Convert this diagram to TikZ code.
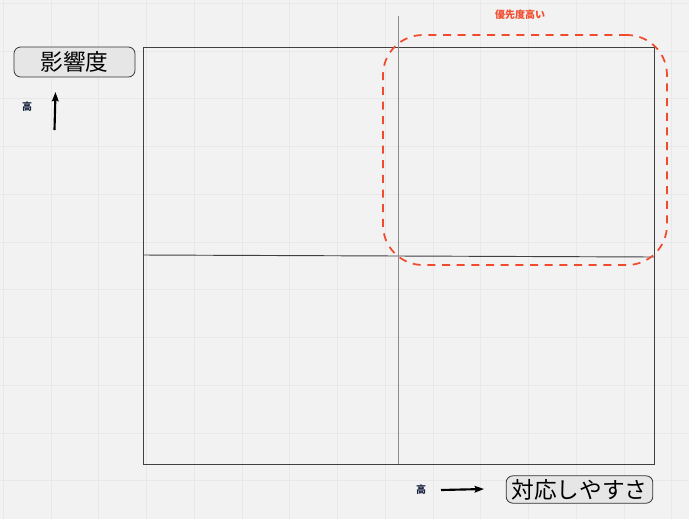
\documentclass[tikz,border=0pt]{standalone}
\usepackage{fontspec}
\newfontfamily\jp{Noto Sans CJK JP}
\usetikzlibrary{arrows.meta}
\definecolor{bg}{HTML}{F2F2F2}
\definecolor{gridc}{HTML}{E8E8E8}
\definecolor{hot}{HTML}{F24A2C}
\definecolor{boxfill}{HTML}{E6E6E6}
\definecolor{navy}{HTML}{1A2440}
\tikzset{
  labelbox/.style={draw=black!80, fill=boxfill, rounded corners=5pt, line width=0.6pt, inner sep=0pt, font=\jp},
  smalltxt/.style={font=\jp\fontsize{7.5}{8}\selectfont\bfseries, text=navy},
  bigarrow/.style={line width=1.6pt, -{Stealth[length=7pt,width=5pt,inset=1pt]}},
  frame/.style={draw=black!75, line width=0.7pt},
  divider/.style={draw=black!45, line width=0.6pt},
}
\begin{document}
\begin{tikzpicture}[x=0.75pt,y=-0.75pt]
\useasboundingbox (0,0) rectangle (689,519);
\fill[bg] (0,0) rectangle (689,519);
% grid
\foreach \i in {0,...,14} {
  \draw[gridc, line width=0.5pt] ({3.3+47.75*\i},0) -- ({3.3+47.75*\i},519);
}
\foreach \j in {0,...,10} {
  \draw[gridc, line width=0.5pt] (0,{3.1+47.75*\j}) -- (689,{3.1+47.75*\j});
}
% frame
\draw[frame] (143,47) rectangle (654,464);
\coordinate (hl) at (143,255);
\coordinate (hr) at (654,257);
\draw[frame] (hl) -- (hr);
\coordinate (vt) at (398.5,16);
\coordinate (vb) at (398.5,464);
\draw[divider] (vt) -- (vb);
% priority region
\node[draw=hot, dashed, dash pattern=on 6pt off 5pt, line width=1.3pt, rounded corners=30pt,
      minimum width=213pt, minimum height=172.5pt, inner sep=0pt] (hot) at (525,150) {};
\node[font=\jp\fontsize{7.5}{8}\selectfont\bfseries, text=hot] (hotlbl) at (520,15) {優先度高い};
% y axis label
\node[labelbox, minimum width=90.75pt, minimum height=22.5pt] (ylab) at (74.5,62) {\fontsize{17}{18}\selectfont 影響度};
\node[smalltxt] (yhigh) at (27,107) {高};
\coordinate (ya) at (54.5,130);
\coordinate (yb) at (55.5,92);
\draw[bigarrow] (ya) -- (yb);
% x axis label
\node[labelbox, minimum width=110pt, minimum height=20.5pt] (xlab) at (579.5,489.5) {\fontsize{17}{18}\selectfont 対応しやすさ};
\node[smalltxt] (xhigh) at (421,490) {高};
\coordinate (xa) at (441,490);
\coordinate (xb) at (484,489);
\draw[bigarrow] (xa) -- (xb);
\end{tikzpicture}
\end{document}
